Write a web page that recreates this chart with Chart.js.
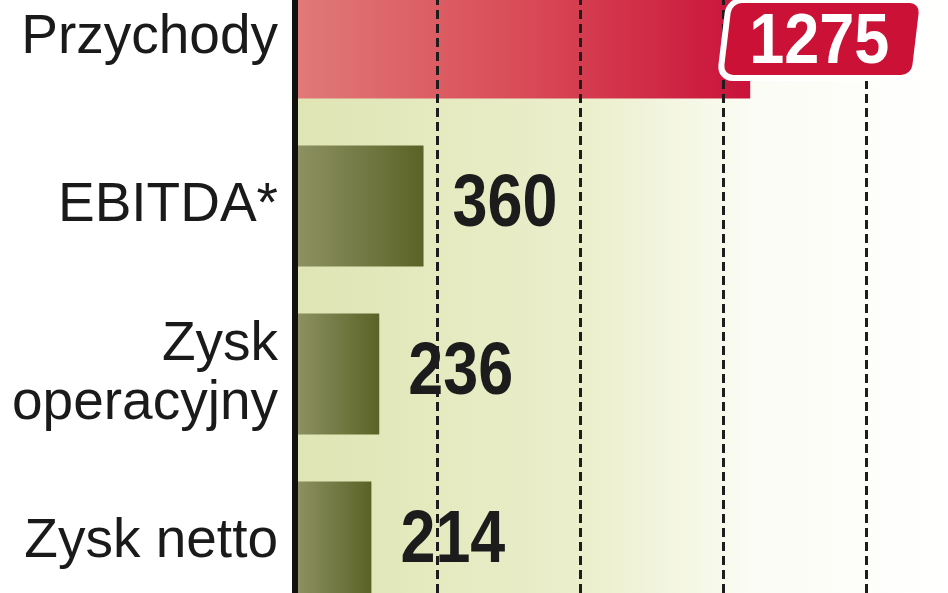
<!DOCTYPE html>
<html>
<head>
<meta charset="utf-8">
<script src="https://cdn.jsdelivr.net/npm/chart.js@4.4.0/dist/chart.umd.min.js"></script>
<style>
html, body { margin: 0; padding: 0; background: #fff; }
#wrap { position: relative; width: 948px; height: 593px; overflow: hidden; }
#chart { position: absolute; left: 0; top: -46px; }
</style>
</head>
<body>
<div id="wrap"><canvas id="chart" width="948" height="672"></canvas></div>
<script>
// data
const categories = ['Przychody', 'EBITDA*', ['Zysk', 'operacyjny'], 'Zysk netto']
const values = [1275, 360, 236, 214]
const gridStep = 400
const axisMax = 1829

const ctx = document.querySelector('#chart').getContext('2d')

// each bar gets its own left-to-right gradient
const barFill = (context) => {
	const { chart, dataIndex } = context
	if (!chart.chartArea) return '#6b7434'
	const x = chart.scales.x
	const g = chart.ctx.createLinearGradient(x.getPixelForValue(0), 0, x.getPixelForValue(values[dataIndex]), 0)
	if (dataIndex === 0) {
		g.addColorStop(0, '#e07a78')
		g.addColorStop(0.5, '#d94b57')
		g.addColorStop(1, '#c9123a')
	} else {
		g.addColorStop(0, '#8e9264')
		g.addColorStop(1, '#5a6326')
	}
	return g
}

// condensed bold digits (Liberation Sans squeezed horizontally)
const drawNumber = (c, text, x, y, size, squeeze, color, align) => {
	c.save()
	c.translate(x, y)
	c.scale(squeeze, 1)
	c.font = `bold ${size}px "Liberation Sans", Arial, sans-serif`
	c.fillStyle = color
	c.textAlign = align
	c.textBaseline = 'alphabetic'
	c.fillText(text, 0, 0)
	c.restore()
}

const plotBg = {
	id: 'plotBg',
	beforeDraw(chart) {
		const { ctx: c, chartArea: a } = chart
		const g = c.createLinearGradient(a.left, 0, a.right, 0)
		g.addColorStop(0, '#dfe5b4')
		g.addColorStop(0.45, '#ebefcc')
		g.addColorStop(0.7, '#fbfcf4')
		g.addColorStop(1, '#ffffff')
		c.save()
		c.fillStyle = g
		c.fillRect(a.left, a.top, a.right - a.left, a.bottom - a.top)
		c.restore()
	}
}

const valueLabels = {
	id: 'valueLabels',
	afterDatasetsDraw(chart) {
		const bars = chart.getDatasetMeta(0).data
		bars.forEach((bar, i) => {
			if (i === 0) return
			drawNumber(chart.ctx, String(values[i]), bar.x + 29, bar.y + 20, 74, 0.85, '#1c1c1c', 'left')
		})
	},
	// boxed label for the first bar, on top of everything
	afterDraw(chart) {
		const c = chart.ctx
		const bar = chart.getDatasetMeta(0).data[0]
		const left = bar.x - 27
		const bottom = bar.y + 37
		const w = 188, h = 72
		c.save()
		c.translate(left, bottom)
		c.transform(1, 0, -0.12, 1, 0, 0)
		c.beginPath()
		c.roundRect(0, -h, w, h, 10)
		c.lineWidth = 12
		c.strokeStyle = '#ffffff'
		c.stroke()
		c.fillStyle = '#cb1136'
		c.fill()
		c.restore()
		drawNumber(c, String(values[0]), left + w / 2 + 2, bottom - 12, 70, 0.9, '#ffffff', 'center')
	}
}

const chart = new Chart(ctx, {
	type: 'bar',
	data: {
		labels: categories,
		datasets: [{
			data: values,
			backgroundColor: barFill,
			borderWidth: 0,
			categoryPercentage: 1,
			barPercentage: 0.72
		}]
	},
	options: {
		indexAxis: 'y',
		responsive: false,
		animation: false,
		layout: { padding: 0 },
		plugins: {
			legend: { display: false },
			tooltip: { enabled: false }
		},
		scales: {
			x: {
				min: 0,
				max: axisMax,
				ticks: { display: false, stepSize: gridStep },
				grid: {
					z: 1,
					drawTicks: false,
					lineWidth: 3,
					color: c => (c.tick && c.tick.value > 0 && c.tick.value % gridStep === 0) ? '#1d1d1d' : 'rgba(0,0,0,0)'
				},
				border: { display: false, dash: [9, 5] }
			},
			y: {
				grid: { display: false, drawTicks: false },
				border: { color: '#111111', width: 6, z: 2 },
				ticks: {
					autoSkip: false,
					padding: 17,
					color: '#1a1a1a',
					font: { family: '"Liberation Sans", Arial, sans-serif', size: 55, lineHeight: 1.07 }
				},
				afterFit(scale) {
					scale.width = 295
					// let the plot run to the canvas edges; the page crops it
					scale.paddingTop = 0
					scale.paddingBottom = 0
				}
			}
		}
	},
	plugins: [plotBg, valueLabels]
})
</script>
</body>
</html>
